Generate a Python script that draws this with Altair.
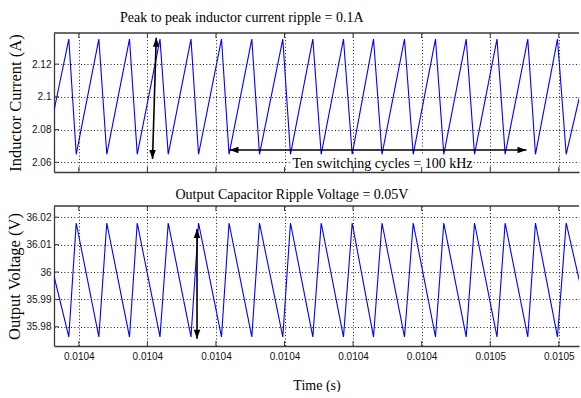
import altair as alt
import pandas as pd

# Switching waveform vertices (time in seconds), shared by both traces
time_s = [
    0.0103864, 0.01038854, 0.01038962, 0.01039292, 0.01039408, 0.01039739,
    0.01039852, 0.01040184, 0.01040304, 0.01040636, 0.01040746, 0.01041081,
    0.01041191, 0.01041523, 0.01041635, 0.01041975, 0.01042087, 0.01042413,
    0.01042535, 0.01042860, 0.01042987, 0.01043298, 0.01043422, 0.01043750,
    0.01043877, 0.01044202, 0.01044323, 0.01044650, 0.01044771, 0.01045099,
    0.01045218, 0.01045548, 0.01045660, 0.01045981, 0.01046108, 0.0104632,
]
inductor_current = [
    2.0920, 2.1353, 2.0649, 2.1353, 2.0649, 2.1353, 2.0649, 2.1353, 2.0649,
    2.1353, 2.0649, 2.1353, 2.0649, 2.1353, 2.0649, 2.1353, 2.0649, 2.1353,
    2.0649, 2.1353, 2.0649, 2.1353, 2.0649, 2.1353, 2.0649, 2.1353, 2.0649,
    2.1353, 2.0649, 2.1353, 2.0649, 2.1353, 2.0649, 2.1353, 2.0649, 2.1032,
]
output_voltage = [
    35.9983, 35.9763, 36.0179, 35.9763, 36.0179, 35.9763, 36.0179, 35.9763,
    36.0179, 35.9763, 36.0179, 35.9763, 36.0179, 35.9763, 36.0179, 35.9763,
    36.0179, 35.9763, 36.0179, 35.9763, 36.0179, 35.9763, 36.0179, 35.9763,
    36.0179, 35.9763, 36.0179, 35.9763, 36.0179, 35.9763, 36.0179, 35.9763,
    36.0179, 35.9763, 36.0179, 35.9947,
]

x_ticks = [0.01039, 0.0104, 0.01041, 0.01042, 0.01043, 0.01044, 0.01045, 0.01046]
x_tick_labels = ["0.0104", "0.0104", "0.0104", "0.0104", "0.0104", "0.0104",
                 "0.0105", "0.0105"]
current_ticks = [2.06, 2.08, 2.1, 2.12]
voltage_ticks = [35.98, 35.99, 36.0, 36.01, 36.02]

time_domain = [0.01038638, 0.01046295]
current_domain = [2.0541, 2.1390]
voltage_domain = [35.9730, 36.0241]

# Annotation arrows (tip to tip) and the cycle-count note
current_arrow_t = [0.01040129, 0.01041198]
current_arrow_v = [2.1361, 2.06753]
current_arrow_t2 = [0.01040075, 0.01045529]
current_arrow_v2 = [2.0620, 2.06753]
voltage_arrow_t = [0.01040724]
voltage_arrow_v = [36.0157]
voltage_arrow_v2 = [35.97563]
note_t = 0.01042117
note_v = 2.05681
note_box_t = [0.01042087, 0.01044727]
note_box_v = [2.05528, 2.06447]

current_title = "Peak to peak inductor current ripple = 0.1A"
voltage_title = "Output Capacitor Ripple Voltage = 0.05V"

W, H1, H2 = 525, 139, 140
FRAME = "#3a3a3a"
SERIF = "Liberation Serif"
SANS = "Liberation Sans"

HEADS = {
    "up": "M0,0L1.1,3L-1.1,3Z",
    "down": "M0,0L1.1,-3L-1.1,-3Z",
    "left": "M0,0L3,-1.1L3,1.1Z",
    "right": "M0,0L-3,-1.1L-3,1.1Z",
}

x_scale = alt.Scale(domain=time_domain, nice=False, zero=False)
i_scale = alt.Scale(domain=current_domain, nice=False, zero=False)
v_scale = alt.Scale(domain=voltage_domain, nice=False, zero=False)

label_expr = (
    "[" + ",".join(f"'{s}'" for s in x_tick_labels) + "]"
    + "[indexof([" + ",".join(repr(v) for v in x_ticks) + "], datum.value)]"
)

grid_style = dict(grid=True, gridColor="#000000", gridDash=[1, 2.3],
                  gridOpacity=0.9, gridWidth=1)


def time_axis(with_labels):
    kw = dict(values=x_ticks, tickCount=len(x_ticks), domain=True,
              domainColor=FRAME, domainWidth=1.3, ticks=False, tickSize=0,
              **grid_style)
    if with_labels:
        kw.update(labels=True, labelExpr=label_expr, labelFont=SANS,
                  labelFontSize=10, labelColor="#111111", labelPadding=5,
                  labelOverlap=False,
                  title="Time (s)", titleFont=SERIF, titleFontSize=14,
                  titleFontWeight="normal", titleColor="#000000",
                  titleBaseline="alphabetic", titleY=43)
    else:
        kw.update(labels=False, title=None)
    return alt.Axis(**kw)


def value_axis(ticks, title, title_x, height):
    return alt.Axis(values=ticks, tickCount=len(ticks), format="~g",
                    domain=True, domainColor=FRAME,
                    domainWidth=1.3, ticks=False, tickSize=0, labelFont=SANS,
                    labelFontSize=10, labelColor="#111111", labelPadding=3,
                    labelOverlap=False,
                    title=title, titleFont=SERIF, titleFontSize=16.5,
                    titleFontWeight="normal", titleColor="#000000",
                    titleAngle=270, titleAlign="center",
                    titleBaseline="alphabetic", titleX=title_x,
                    titleY=height / 2, **grid_style)


wave = pd.DataFrame({"t": time_s, "i": inductor_current, "v": output_voltage})
xt = pd.DataFrame({"t": x_ticks})
one = pd.DataFrame({"k": [0]})


def frame_layers(height, ticks_df, field, yscale):
    """Inward tick marks on the box and the top edge of the box."""
    bottom = alt.Chart(xt).mark_rule(color=FRAME, strokeWidth=1).encode(
        x=alt.X("t:Q", scale=x_scale),
        y=alt.value(height), y2=alt.value(height - 5))
    top = alt.Chart(xt).mark_rule(color=FRAME, strokeWidth=1).encode(
        x=alt.X("t:Q", scale=x_scale),
        y=alt.value(0), y2=alt.value(5))
    left = alt.Chart(ticks_df).mark_rule(color=FRAME, strokeWidth=1).encode(
        y=alt.Y(f"{field}:Q", scale=yscale),
        x=alt.value(0), x2=alt.value(5))
    edge = alt.Chart(one).mark_rule(color=FRAME, strokeWidth=1.3).encode(
        x=alt.value(0), x2=alt.value(W), y=alt.value(0), y2=alt.value(0))
    return [bottom, top, left, edge]


def heads_layer(df, yfield, yscale):
    return alt.Chart(df).mark_point(filled=True, size=36, color="black",
                                    opacity=1, strokeWidth=0).encode(
        x=alt.X("t:Q", scale=x_scale),
        y=alt.Y(f"{yfield}:Q", scale=yscale),
        shape=alt.Shape("shape:N", scale=None, legend=None))


def heading(text, left, baseline_y):
    df = pd.DataFrame({"txt": [text]})
    return alt.Chart(df).mark_text(align="left", baseline="alphabetic",
                                   font=SERIF, fontSize=14,
                                   color="black").encode(
        x=alt.value(left), y=alt.value(baseline_y), text="txt:N")


# ---- inductor current panel ----
arrows_i = pd.DataFrame({"t": current_arrow_t, "v": current_arrow_v,
                         "t2": current_arrow_t2, "v2": current_arrow_v2})
heads_i = pd.DataFrame({
    "t": current_arrow_t + current_arrow_t2,
    "v": current_arrow_v + current_arrow_v2,
    "shape": [HEADS["up"], HEADS["left"], HEADS["down"], HEADS["right"]],
})
note_box = pd.DataFrame({"t": [note_box_t[0]], "t2": [note_box_t[1]],
                         "v": [note_box_v[0]], "v2": [note_box_v[1]]})
note = pd.DataFrame({"t": [note_t], "v": [note_v],
                     "txt": ["Ten switching cycles = 100 kHz"]})

box_i = alt.Chart(note_box).mark_rect(color="white").encode(
    x=alt.X("t:Q", scale=x_scale), x2="t2:Q",
    y=alt.Y("v:Q", scale=i_scale), y2="v2:Q")
line_i = alt.Chart(wave).mark_line(color="#0000ff", strokeWidth=1.1,
                                   clip=True).encode(
    x=alt.X("t:Q", scale=x_scale, axis=time_axis(False)),
    y=alt.Y("i:Q", scale=i_scale,
            axis=value_axis(current_ticks, "Inductor Current (A)", -33.5, H1)))
arrow_lines_i = alt.Chart(arrows_i).mark_rule(color="black",
                                              strokeWidth=1.6).encode(
    x=alt.X("t:Q", scale=x_scale), x2="t2:Q",
    y=alt.Y("v:Q", scale=i_scale), y2="v2:Q")
note_text = alt.Chart(note).mark_text(align="left", baseline="alphabetic",
                                      font=SERIF, fontSize=14,
                                      color="black").encode(
    x=alt.X("t:Q", scale=x_scale),
    y=alt.Y("v:Q", scale=i_scale), text="txt:N")
# zero-opacity corner that pins the page origin
corner = alt.Chart(one).mark_rule(opacity=0, strokeWidth=1).encode(
    x=alt.value(-54), x2=alt.value(-54), y=alt.value(-32.5),
    y2=alt.value(-32.5))

current_ticks_df = pd.DataFrame({"i": current_ticks})
top = alt.layer(
    line_i, box_i,
    *frame_layers(H1, current_ticks_df, "i", i_scale),
    arrow_lines_i, heads_layer(heads_i, "v", i_scale), note_text,
    heading(current_title, 66, -11), corner,
).properties(width=W, height=H1)

# ---- output voltage panel ----
arrows_v = pd.DataFrame({"t": voltage_arrow_t, "v": voltage_arrow_v,
                         "v2": voltage_arrow_v2})
heads_v = pd.DataFrame({
    "t": voltage_arrow_t + voltage_arrow_t,
    "v": voltage_arrow_v + voltage_arrow_v2,
    "shape": [HEADS["up"], HEADS["down"]],
})
line_v = alt.Chart(wave).mark_line(color="#0000ff", strokeWidth=1.1,
                                   clip=True).encode(
    x=alt.X("t:Q", scale=x_scale, axis=time_axis(True)),
    y=alt.Y("v:Q", scale=v_scale,
            axis=value_axis(voltage_ticks, "Output Voltage (V)", -35, H2)))
arrow_lines_v = alt.Chart(arrows_v).mark_rule(color="black",
                                              strokeWidth=1.6).encode(
    x=alt.X("t:Q", scale=x_scale),
    y=alt.Y("v:Q", scale=v_scale), y2="v2:Q")

voltage_ticks_df = pd.DataFrame({"v": voltage_ticks})
bottom = alt.layer(
    line_v,
    *frame_layers(H2, voltage_ticks_df, "v", v_scale),
    arrow_lines_v, heads_layer(heads_v, "v", v_scale),
    heading(voltage_title, 121.5, -7),
).properties(width=W, height=H2)

chart = alt.vconcat(top, bottom, spacing=34, bounds="flush").properties(
    padding=0, background="white"
).configure_view(stroke=None)

chart.save("out.html", embed_options={"renderer": "svg", "actions": False})
